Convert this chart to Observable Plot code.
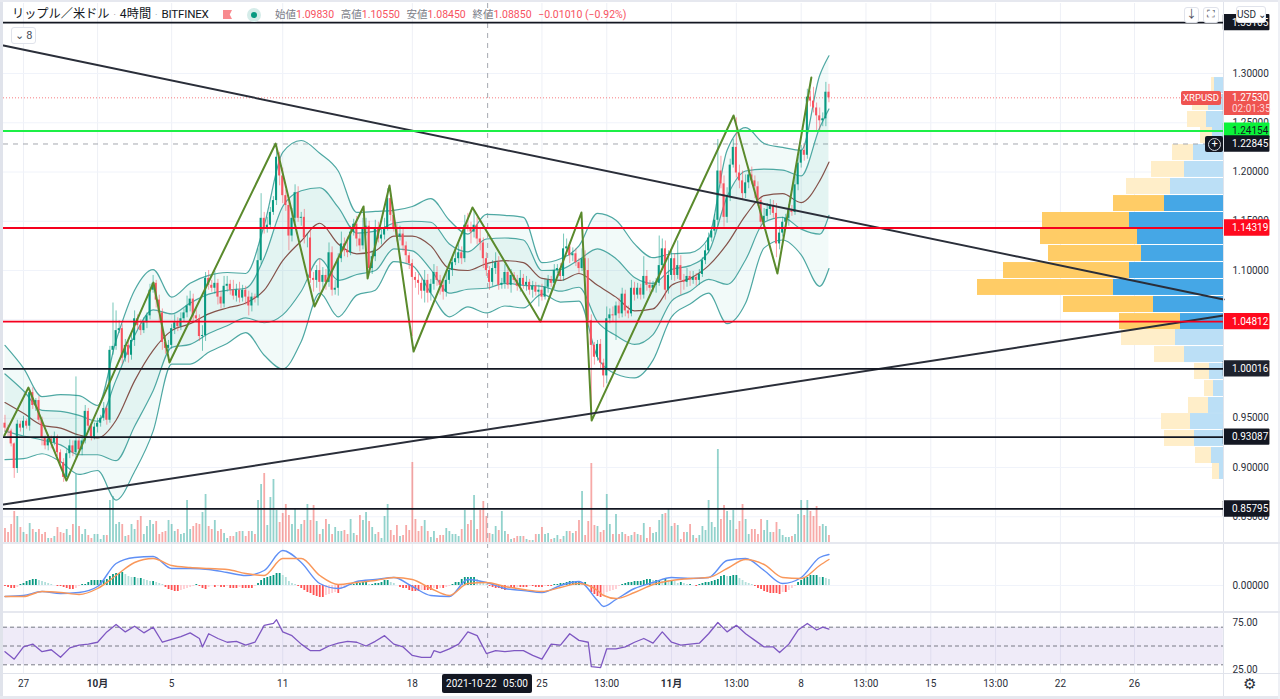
<!DOCTYPE html>
<html lang="ja"><head><meta charset="utf-8">
<script src="https://cdn.jsdelivr.net/npm/d3@7"></script>
<script src="https://cdn.jsdelivr.net/npm/@observablehq/plot@0.6"></script>
<style>
html,body{margin:0;padding:0;background:#fff;overflow:hidden}
#chart{position:relative;width:1280px;height:699px;font-family:Roboto,"Noto Sans CJK JP",sans-serif;color:#131722}
#chart svg{position:absolute;left:0;top:0;background:transparent;pointer-events:none}
.ui{position:absolute;white-space:nowrap}
.btn{background:#fff;border:1px solid #e0e3eb;border-radius:3px;text-align:center;box-sizing:border-box;font-size:11px;color:#4a4e5a}
</style></head><body><div id="chart"></div>
<script>
// ---- Candles (4h bars; bar 0 = 27 Sep 00:00, first bar = -6) ----
const firstOpen = 0.945;
const closes = [
.940,.937,.924,.899,.944,.940,.947,.942,.976,.963,.968,.948,.930,.922,.929,.925,.931,.915,.905,.890,
.914,.922,.915,.927,.918,.927,.957,.942,.931,.941,.945,.950,.960,.948,1.019,1.023,1.039,1.041,1.011,1.024,
1.014,1.029,1.051,1.044,1.039,1.047,1.054,1.080,1.087,1.070,1.057,1.027,1.021,1.024,1.041,1.047,1.043,1.051,1.057,1.064,
1.071,1.054,1.051,1.033,1.034,1.092,1.085,1.082,1.087,1.073,1.066,1.084,1.086,1.080,1.074,1.080,1.072,1.080,1.073,1.064,
1.073,1.072,1.110,1.153,1.143,1.146,1.159,1.171,1.215,1.196,1.176,1.166,1.135,1.153,1.179,1.153,1.154,1.133,1.133,1.092,
1.090,1.100,1.088,1.095,1.088,1.118,1.080,1.082,1.112,1.127,1.120,1.118,1.139,1.147,1.132,1.125,1.143,1.145,1.102,1.114,
1.143,1.132,1.136,1.143,1.173,1.156,1.143,1.134,1.137,1.125,1.115,1.107,1.093,1.090,1.087,1.079,1.090,1.077,1.086,1.098,
1.090,1.085,1.078,1.090,1.100,1.108,1.112,1.118,1.112,1.146,1.143,1.139,1.146,1.132,1.128,1.112,1.100,1.088,1.102,1.108,
1.085,1.087,1.098,1.085,1.095,1.090,1.084,1.092,1.085,1.088,1.080,1.084,1.078,1.080,1.073,1.083,1.090,1.087,1.100,1.102,
1.094,1.122,1.124,1.115,1.117,1.108,1.102,1.112,1.100,1.049,1.024,1.012,1.025,1.006,.993,1.051,1.055,1.054,1.064,1.056,
1.076,1.059,1.056,1.082,1.075,1.082,1.075,1.094,1.085,1.082,1.085,1.087,1.105,1.122,1.080,1.095,1.112,1.095,1.105,1.090,
1.088,1.094,1.090,1.093,1.090,1.096,1.110,1.120,1.133,1.140,1.151,1.201,1.188,1.154,1.174,1.207,1.225,1.199,1.191,1.178,
1.189,1.197,1.191,1.185,1.171,1.149,1.155,1.162,1.166,1.158,1.127,1.138,1.149,1.153,1.161,1.159,1.187,1.209,1.222,1.217,
1.276,1.272,1.265,1.257,1.252,1.254,1.281,1.2753];
// upper and lower wick lengths, in thousandths of a dollar
const wickUp = [
8,3,2,1,4,3,5,2,3,5,2,4,3,2,4,3,5,2,3,4,
4,6,5,65,3,5,6,3,2,4,5,3,6,2,4,44,20,8,4,6,
5,6,8,4,6,5,3,6,8,3,5,4,6,5,4,8,5,6,4,10,
8,5,6,4,10,6,8,5,12,4,6,10,8,4,10,6,8,5,4,6,
4,3,12,25,6,8,5,4,12,5,8,6,5,10,8,6,5,8,4,8,
6,5,12,8,6,10,6,8,5,12,6,14,6,5,8,6,10,8,5,6,
8,6,5,10,10,5,6,4,8,5,4,3,4,5,6,5,10,6,5,8,
6,5,4,10,8,6,8,12,6,10,12,6,15,8,10,5,6,4,8,10,
6,5,8,4,6,3,5,8,4,6,3,5,4,5,6,8,5,4,6,4,
5,15,8,4,6,5,4,10,8,12,6,3,4,5,4,12,6,8,4,8,
6,4,5,8,6,5,4,20,6,5,4,5,30,10,8,25,8,5,25,10,
6,8,5,6,4,5,3,6,5,4,6,32,15,8,10,6,8,30,8,10,
8,6,8,5,5,3,8,6,6,5,10,6,5,4,6,5,8,6,5,6,
8,6,14,5,8,6,10,8];
const wickDown = [
4,6,3,10,5,4,8,3,5,4,6,3,8,4,5,6,3,4,6,5,
3,5,4,6,5,6,3,5,4,3,6,4,3,5,3,5,4,3,6,4,
8,5,6,4,5,3,6,4,3,8,10,8,6,5,4,6,5,4,3,5,
6,8,4,5,15,6,5,4,6,8,5,4,6,5,4,6,5,4,8,10,
6,5,8,4,6,5,4,3,5,10,8,6,15,6,5,4,8,6,10,5,
12,8,10,6,8,5,6,5,8,4,6,5,3,4,8,6,4,8,5,6,
5,4,6,5,3,6,4,5,4,6,8,6,60,8,12,8,12,10,8,6,
6,10,8,5,4,6,3,5,6,4,4,12,6,6,8,10,6,8,4,6,
5,4,6,4,8,3,5,6,4,6,5,8,4,15,4,3,6,4,6,3,
4,5,3,8,6,4,5,3,6,6,75,8,4,6,12,8,5,6,25,5,
4,6,5,3,6,4,5,4,6,5,4,8,3,5,10,4,5,6,4,15,
8,5,6,4,6,5,3,4,3,4,4,6,5,10,6,4,3,5,8,6,
5,6,4,12,6,8,5,4,6,5,14,6,4,5,8,4,3,6,5,6,
4,6,5,15,10,6,8,5];
// ---- Volume per bar ----
const volumes = [
15,11,19,32,27,16,11,9,20,14,11,14,9,11,5,5,7,16,11,10,
14,8,19,69,17,9,14,8,5,9,9,4,8,8,43,47,19,21,19,7,
8,19,14,23,27,9,17,23,19,22,9,11,12,23,19,12,14,9,10,43,
14,17,20,19,31,49,17,14,23,12,14,10,5,7,7,11,12,12,7,12,
12,9,43,59,70,18,46,64,33,21,30,39,28,19,34,14,19,23,39,23,
38,22,9,14,24,19,9,16,12,12,13,9,24,10,8,28,23,31,22,16,
9,11,5,27,39,13,8,18,7,8,18,13,81,24,12,17,23,12,6,12,
5,8,8,15,12,9,9,7,14,33,19,23,48,14,33,42,27,10,9,17,
13,32,12,9,4,5,7,7,7,4,3,3,9,9,16,9,10,4,5,8,
4,7,12,12,10,12,23,52,8,22,80,18,17,11,13,49,19,9,29,9,
11,9,7,8,11,9,8,20,5,16,10,11,23,29,30,35,17,20,18,4,
11,11,19,8,5,8,17,13,43,21,16,94,24,38,32,23,33,14,22,39,
24,9,14,14,9,24,13,23,11,11,21,14,8,6,6,7,9,29,43,28,
43,32,27,37,17,19,17,8];
// ---- Bollinger bands, read every six bars ----
const bbBars = [-6,0,6,12,18,24,30,36,42,48,54,60,66,72,78,84,90,96,102,108,114,120,126,132,138,144,150,156,162,168,174,180,186,192,198,204,210,216,222,228,234,240,246,252,258,261];
const bbOuterUpper = [1.024,1.001,.972,.974,.973,.963,1.029,1.080,1.101,1.073,1.087,1.095,1.098,1.097,1.146,1.220,1.232,1.219,1.201,1.159,1.160,1.161,1.165,1.173,1.151,1.137,1.157,1.156,1.154,1.108,1.112,1.125,1.158,1.151,1.127,1.113,1.117,1.118,1.133,1.222,1.245,1.229,1.225,1.222,1.298,1.318];
const bbInnerUpper = [.995,.978,.958,.957,.953,.947,.989,1.034,1.060,1.056,1.067,1.076,1.080,1.082,1.113,1.165,1.181,1.184,1.164,1.138,1.140,1.148,1.150,1.149,1.127,1.119,1.132,1.133,1.131,1.100,1.101,1.111,1.122,1.112,1.093,1.087,1.101,1.105,1.119,1.175,1.201,1.203,1.202,1.196,1.245,1.264];
const bbMiddle = [.966,.955,.943,.940,.933,.930,.948,.988,1.019,1.039,1.046,1.056,1.062,1.067,1.080,1.110,1.130,1.148,1.127,1.117,1.120,1.135,1.135,1.125,1.102,1.100,1.107,1.110,1.108,1.092,1.090,1.097,1.085,1.073,1.059,1.061,1.085,1.092,1.105,1.127,1.156,1.176,1.178,1.169,1.191,1.210];
const bbInnerLower = [.937,.932,.928,.923,.913,.913,.907,.942,.978,1.022,1.025,1.036,1.044,1.052,1.047,1.055,1.079,1.112,1.090,1.096,1.100,1.122,1.120,1.101,1.077,1.081,1.082,1.087,1.085,1.084,1.079,1.083,1.048,1.034,1.025,1.035,1.069,1.079,1.091,1.086,1.111,1.149,1.154,1.142,1.137,1.156];
const bbOuterLower = [.908,.909,.914,.906,.893,.897,.867,.896,.937,1.005,1.005,1.017,1.026,1.037,1.014,1.000,1.028,1.077,1.053,1.075,1.080,1.109,1.105,1.077,1.053,1.063,1.057,1.064,1.062,1.076,1.068,1.069,1.012,.995,.991,1.009,1.053,1.066,1.077,1.046,1.067,1.123,1.131,1.116,1.084,1.102];
// ---- Zigzag and trend lines ----
const zigBars = [-6.2,1.6,13.9,42.1,47.3,81.7,94.3,110.2,111.5,118.6,126.4,145.5,167.5,180.8,184.1,230.1,244.3,255.3];
const zigPrices = [.9325,.9812,.8868,1.0878,1.0066,1.2289,1.0635,1.1650,1.0919,1.1863,1.0178,1.1640,1.0482,1.1589,.9477,1.2574,1.0970,1.2959];
const trendBars = [-6.5,388.9];
const trendDown = [1.3284,1.0706];
const trendUp = [.8624,1.0543];
// ---- Horizontal levels ----
const blackLevels = [1.35165,1.00016,.93087,.85795];
const redLevels = [1.14319,1.04812];
const greenLevel = [1.24154];
const dashLevel = [1.22845];
const lastPrice = [1.2753];
// ---- Volume profile ----
const profileTop = [1.2959,1.2787,1.2614,1.2452,1.2279,1.2107,1.1934,1.1761,1.1589,1.1426,1.1254,1.1081,1.0909,1.0736,1.0563,1.0401,1.0228,1.0056,.9883,.9711,.9548,.9376,.9203,.9041];
const profileBuy = [9,15,17,11,30,39,53,59,94,86,82,94,110,70,43,48,39,14,10,15,33,29,12,4];
const profileSell = [3,16,19,12,21,33,44,51,87,97,93,126,136,90,61,54,30,15,9,20,29,30,16,7];
const profileValueArea = [0,0,0,0,0,0,0,1,1,1,1,1,1,1,1,0,0,0,0,0,0,0,0,0];
// ---- MACD, in thousandths ----
const macdBars = [-6,0,6,12,18,24,30,36,42,48,54,60,66,72,78,84,90,96,102,108,114,120,126,132,138,144,150,156,162,168,174,180,186,188,192,198,204,210,216,222,228,234,240,246,252,258,261];
const macdLine = [-11,-10,-6,-8,-7,-1,22,28,29,17,17,16,13,10,15,35,23,2,-3,4,6,8,-1,-10,-11,6,3,-3,-5,-7,0,4,-15,-21,-14,-3,3,8,7,8,25,27,15,2,8,28,31];
const signalLine = [-11,-11,-6,-7,-9,-3,10,23,27,20,18,17,16,12,10,27,27,10,1,3,5,8,6,-3,-10,2,3,-1,-4,-6,-2,2,-5,-10,-13,-7,1,5,7,8,17,26,21,8,7,20,26];
const macdHist = [
-1,-2,-3,-3,-2,1,2,4,5,6,6,5,4,3,2,1,0,-1,-1,-2,
-3,-4,-4,-3,-1,1,1,3,5,5,5,5,5,6,9,11,12,12,13,11,
9,8,8,7,7,6,5,4,4,3,2,1,-2,-4,-5,-6,-6,-5,-4,-3,
-2,-1,1,-1,-3,-4,-2,0,-2,-1,-2,-2,-1,-3,-3,-3,-2,-3,-3,-3,
-3,-1,2,5,7,8,9,10,12,12,10,8,4,2,1,-1,-3,-5,-7,-8,
-10,-11,-12,-12,-10,-9,-8,-7,-8,-4,-3,-1,1,1,2,2,3,3,1,1,
2,2,3,5,5,3,2,0,-2,-3,-3,-5,-6,-6,-6,-5,-5,-5,-5,-3,
-4,-3,-3,-2,-1,1,3,3,6,8,8,8,8,6,4,2,1,-1,-2,-3,
-3,-4,-5,-3,-3,-3,-2,-2,-2,-2,-1,-1,-2,-2,-2,-1,-1,-1,1,1,
2,2,3,4,4,4,4,3,3,-1,-7,-9,-11,-12,-10,-7,-6,-5,-4,-1,
1,2,3,3,4,4,4,5,6,6,5,5,5,4,6,5,5,4,2,3,
2,1,1,0,-1,1,2,3,3,4,5,6,9,10,9,9,10,10,7,5,
3,2,1,-1,-3,-4,-6,-7,-8,-8,-8,-9,-7,-7,-5,-3,-1,3,5,7,
8,10,10,10,8,8,7,6];
// ---- RSI ----
const rsiBars = [-6,-3,0,3,6,9,12,15,18,21,24,27,30,33,36,39,42,45,48,51,54,57,58,60,63,66,69,72,75,78,81,82,84,87,90,93,96,99,102,105,108,111,114,117,120,123,126,129,132,133,135,138,141,144,147,150,153,156,159,162,165,168,171,174,177,180,183,184,187,189,192,195,198,201,204,207,210,213,216,219,222,225,228,231,234,237,240,243,245,248,251,254,257,259,261];
const rsiValues = [44,36,49,52,44,46,38,48,51,52,54,65,73,65,71,64,70,54,57,60,64,58,49,63,58,54,55,51,54,72,74,78,65,61,52,45,45,50,53,55,54,50,55,61,52,49,40,38,38,45,43,47,52,65,61,42,45,44,45,45,40,36,52,51,63,56,54,28,27,47,47,49,54,58,53,65,54,51,52,53,63,75,65,72,63,56,49,49,43,52,67,74,67,70,68];
// ---- Axis ticks ----
const priceTicks = [1.30,1.25,1.20,1.15,1.10,1.05,1.00,.95,.90,.85];
const tickBars = [0,48,84,126,168,189,231,252,273,294,315,336,360];
const tickLabels = ["27","5","11","18","25","13:00","13:00","8","13:00","15","13:00","22","26"];
const monthBars = [24,210];
const monthLabels = ["10月","11月"];
const crosshairBar = [150.4];
const rsiLevels = [70,50,30];
const rsiTicks = [75,25];

// ---- Shared scale and layout settings ----
const FONT = "Roboto,'Noto Sans CJK JP',sans-serif";
const UP = "#089981", DOWN = "#f7525f", INK = "#131722";
const xScale = {type:"linear",domain:[0,360],range:[23,23+3.086*360],axis:null};
const priceScale = {type:"linear",domain:[.85,1.30],range:[516.3,73],axis:null};
const frame = {width:1280,height:699,marginLeft:3,marginRight:57,marginTop:3,marginBottom:25,
  style:{fontFamily:FONT,fontSize:"10px",background:"transparent",color:INK,overflow:"visible"},
  color:{type:"identity"}};
const root = document.getElementById("chart");
const add = opts => root.appendChild(Plot.plot({...frame,x:xScale,...opts}));
const curve = "monotone-x";

const bars = closes.map((c,i)=>{
  const o = i? closes[i-1] : firstOpen;
  return {b:i-6,o,c,h:Math.max(o,c)+wickUp[i]/1000,l:Math.min(o,c)-wickDown[i]/1000,
          up:c>=o,v:volumes[i],m:macdHist[i],pm:i?macdHist[i-1]:0};
});
const bb = bbBars.map((b,i)=>({b,ou:bbOuterUpper[i],iu:bbInnerUpper[i],mid:bbMiddle[i],il:bbInnerLower[i],ol:bbOuterLower[i]}));
const zig = zigBars.map((b,i)=>({b,p:zigPrices[i]}));
const macd = macdBars.map((b,i)=>({b,m:macdLine[i],s:signalLine[i]}));
const rsi = rsiBars.map((b,i)=>({b,r:rsiValues[i]}));
const profile = profileTop.map((t,i)=>({t,bt:t-.0162,buy:profileBuy[i],sell:profileSell[i],va:profileValueArea[i]}));
const trendA = trendBars.map((b,i)=>({b,p:trendDown[i]}));
const trendB = trendBars.map((b,i)=>({b,p:trendUp[i]}));

// grid and time axis
add({y:priceScale,marks:[
  Plot.gridX(tickBars.concat(monthBars),{stroke:"#eef0f6",strokeOpacity:1}),
  Plot.gridY(priceTicks,{stroke:"#f0f3fa",strokeOpacity:1}),
  Plot.axisX(tickBars,{anchor:"bottom",tickSize:0,tickPadding:5,label:null,tickFormat:d=>tickLabels[tickBars.indexOf(d)],fill:"#2a2e39"}),
  Plot.axisX(monthBars,{anchor:"bottom",tickSize:0,tickPadding:5,label:null,fontWeight:"bold",tickFormat:d=>monthLabels[monthBars.indexOf(d)],fill:"#2a2e39"})
]});
// volume profile
add({x:{type:"linear",domain:[0,246],range:[1223,977],axis:null},y:priceScale,marks:[
  Plot.rect(profile,{x1:0,x2:"buy",y1:"t",y2:"bt",fill:d=>d.va?"#45a7e6":"#bbdff6"}),
  Plot.rect(profile,{x1:"buy",x2:d=>d.buy+d.sell,y1:"t",y2:"bt",fill:d=>d.va?"#ffcc66":"#ffeec9"})
]});
// volume
add({y:{type:"linear",domain:[0,80],range:[543,463],axis:null},marks:[
  Plot.ruleX(bars,{x:"b",y1:0,y2:"v",stroke:d=>d.up?"#26a69a":"#ef5350",strokeOpacity:.5,strokeWidth:1.8})
]});
// price pane
const tagA = 388.8, tagB = 403.9, tagT = 391.6, half = .0083;
const tags = [
  ...blackLevels.map(p=>({p,bg:p===1.00016?"#1e222d":INK,fg:"#fff"})),
  ...redLevels.map(p=>({p,bg:"#ff0a1e",fg:"#fff"})),
  {p:greenLevel[0],bg:"#0bf33a",fg:INK},
  {p:dashLevel[0],bg:INK,fg:"#fff"}
];
add({y:priceScale,marks:[
  Plot.axisY(priceTicks,{anchor:"right",tickSize:0,tickPadding:9,label:null,tickFormat:".5f",fill:"#2a2e39"}),
  Plot.ruleY(lastPrice,{stroke:"#f77c80",strokeWidth:1,strokeDasharray:"1 2"}),
  Plot.ruleY(dashLevel,{stroke:"#a5a8b0",strokeWidth:1,strokeDasharray:"5 5"}),
  Plot.ruleX(crosshairBar,{stroke:"#a5a8b0",strokeWidth:1,strokeDasharray:"5 5"}),
  Plot.areaY(bb,{x:"b",y1:"ol",y2:"ou",fill:"#26a69a",fillOpacity:.06,curve}),
  Plot.areaY(bb,{x:"b",y1:"il",y2:"iu",fill:"#26a69a",fillOpacity:.07,curve}),
  Plot.line(bb,{x:"b",y:"ou",stroke:"#4ea8a3",strokeWidth:1.2,curve}),
  Plot.line(bb,{x:"b",y:"iu",stroke:"#4ea8a3",strokeWidth:1.2,curve}),
  Plot.line(bb,{x:"b",y:"il",stroke:"#4ea8a3",strokeWidth:1.2,curve}),
  Plot.line(bb,{x:"b",y:"ol",stroke:"#4ea8a3",strokeWidth:1.2,curve}),
  Plot.line(bb,{x:"b",y:"mid",stroke:"#84524a",strokeWidth:1.2,curve}),
  Plot.ruleX(bars,{x:"b",y1:"l",y2:"h",stroke:d=>d.up?UP:DOWN,strokeOpacity:.55,strokeWidth:1}),
  Plot.rect(bars,{x1:d=>d.b-.33,x2:d=>d.b+.33,y1:"o",y2:"c",fill:d=>d.up?UP:DOWN}),
  Plot.line(zig,{x:"b",y:"p",stroke:"#5a8a2c",strokeWidth:2}),
  Plot.line(trendA,{x:"b",y:"p",stroke:"#2a2e39",strokeWidth:2}),
  Plot.line(trendB,{x:"b",y:"p",stroke:"#2a2e39",strokeWidth:2}),
  Plot.ruleY(blackLevels,{stroke:"#131722",strokeWidth:1.8}),
  Plot.ruleY(redLevels,{stroke:"#f5001e",strokeWidth:1.8}),
  Plot.ruleY(greenLevel,{stroke:"#1df046",strokeWidth:2}),
  Plot.rect(tags,{x1:tagA,x2:tagB,y1:d=>d.p+half,y2:d=>d.p-half,fill:"bg",rx:1}),
  Plot.text(tags,{x:tagT,y:"p",text:d=>d.p.toFixed(5),fill:"fg",textAnchor:"start"}),
  Plot.rect(lastPrice,{x1:tagA,x2:tagB,y1:d=>d-.0180,y2:d=>d+.0065,fill:"#ef5350",rx:1}),
  Plot.text(lastPrice,{x:tagT,y:d=>d,text:d=>d.toFixed(5),fill:"#fff",textAnchor:"start"}),
  Plot.text(lastPrice,{x:tagT,y:d=>d-.0115,text:()=>"02:01:35",fill:"#ffd5d6",textAnchor:"start"})
]});
// MACD pane
add({y:{type:"linear",domain:[-30,30],range:[615,555],axis:null},marks:[
  Plot.gridY([0],{stroke:"#f0f3fa",strokeOpacity:1}),
  Plot.axisY([0],{anchor:"right",tickSize:0,tickPadding:9,label:null,tickFormat:d=>(d/1000).toFixed(5),fill:"#2a2e39"}),
  Plot.ruleX(bars,{x:"b",y1:0,y2:"m",strokeWidth:1.8,
    stroke:d=>d.m>=0?(d.m>=d.pm?"#089981":"#b2dfdb"):(d.m<=d.pm?"#ff5252":"#ffcdd2")}),
  Plot.line(macd,{x:"b",y:"m",stroke:"#5f8ff5",strokeWidth:1.4,curve}),
  Plot.line(macd,{x:"b",y:"s",stroke:"#f9975a",strokeWidth:1.4,curve})
]});
// RSI pane
add({y:{type:"linear",domain:[25,75],range:[669,622],axis:null},marks:[
  Plot.rect([{x1:-7.5,x2:tagA}],{x1:"x1",x2:"x2",y1:30,y2:70,fill:"#7e57c2",fillOpacity:.12}),
  Plot.ruleY(rsiLevels,{stroke:"#787b86",strokeWidth:1,strokeDasharray:"4 3"}),
  Plot.axisY(rsiTicks,{anchor:"right",tickSize:0,tickPadding:9,label:null,tickFormat:".2f",fill:"#2a2e39"}),
  Plot.line(rsi,{x:"b",y:"r",stroke:"#7e57c2",strokeWidth:1.3})
]});

// ---- Chrome drawn as page elements: frame lines, header, buttons, labels ----
const ui = (css,html="",cls="ui") => {const d=document.createElement("div");d.className=cls;d.style.cssText=css;d.innerHTML=html;root.appendChild(d);};
ui("left:0;top:0;width:3px;height:699px;background:#e0e3eb");
ui("left:0;top:0;width:1280px;height:2px;background:#e6e8ef");
ui("left:0;bottom:0;width:1280px;height:3px;background:#e6e8ef");
ui("right:0;top:0;width:2px;height:699px;background:#eef0f5");
ui("left:1223px;top:2px;width:1px;height:694px;background:#e0e3eb");
ui("left:3px;top:542px;width:1277px;height:2px;background:#e6e8ef");
ui("left:3px;top:611px;width:1277px;height:2px;background:#e6e8ef");
ui("left:3px;top:673px;width:1277px;height:1px;background:#e0e3eb");
ui("left:12px;top:6px;font-size:12.2px;line-height:17px",'リップル／米ドル<span style="color:#8a8e99;margin:0 4px;font-size:9px">·</span>4時間<span style="color:#8a8e99;margin:0 4px;font-size:9px">·</span><span style="font-size:11.6px;letter-spacing:-.2px">BITFINEX</span>');
ui("left:223px;top:10px;width:9px;height:9px;background:#f88a8f;clip-path:polygon(0 0,100% 0,75% 50%,100% 100%,0 100%)");
ui("left:247px;top:8px;width:14px;height:14px;border-radius:50%;background:#d5ece9");
ui("left:251px;top:12px;width:6px;height:6px;border-radius:50%;background:#089981");
const R = s=>`<span style="color:#f7525f">${s}</span>`;
ui("left:275px;top:7px;font-size:10.5px;line-height:15px;color:#787b86;word-spacing:4px",
  `始値${R("1.09830")} 高値${R("1.10550")} 安値${R("1.08450")} 終値${R("1.08850")} ${R('<span style="word-spacing:0">−0.01010 (−0.92%)</span>')}`);
ui("left:11px;top:27px;width:25px;height:17px;line-height:15px;color:#4a4e5a","⌄ 8","ui btn");
ui("left:1184px;top:7px;width:15px;height:16px;line-height:14px","↓","ui btn");
ui("left:1203px;top:7px;width:16px;height:16px;line-height:13px","⛶","ui btn");
ui("left:1236px;top:6px;width:30px;height:17px;line-height:15px;font-size:10px;color:#2a2e39","USD ⌄","ui btn");
ui(`left:1181px;top:91px;width:40px;height:14px;line-height:14px;background:#ef5350;color:#fff;font-size:9.5px;text-align:center;border-radius:2px;font-family:${FONT}`,"XRPUSD");
ui("left:1205px;top:136px;width:18px;height:16px;background:#131722;border-radius:2px");
ui("left:1208px;top:138px;width:11px;height:11px;border:1px solid #d1d4dc;border-radius:50%;color:#fff;font-size:11px;line-height:10px;text-align:center","+");
ui(`left:442px;top:674px;width:90px;height:19px;line-height:19px;background:#131722;color:#fff;font-size:10px;text-align:center;border-radius:2px;font-family:${FONT};word-spacing:4px`,"2021-10-22 05:00");
ui("left:1243px;top:676px;font-size:15px;line-height:17px;color:#2a2e39","⚙");
</script></body></html>
